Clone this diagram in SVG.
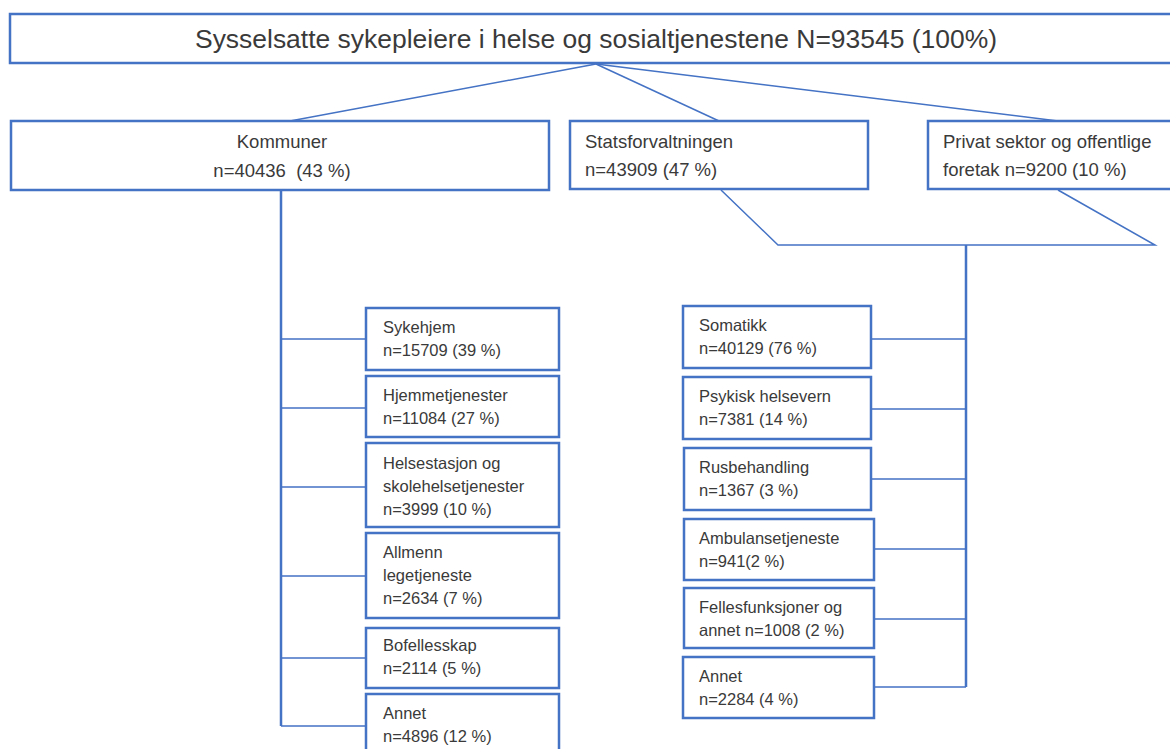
<svg xmlns="http://www.w3.org/2000/svg" width="1170" height="749" viewBox="0 0 1170 749">
<style>
.box{fill:#fff;stroke:#4472C4;stroke-width:2.5}
.ln{fill:none;stroke:#4472C4;stroke-width:1.5}
.sp{fill:none;stroke:#4472C4;stroke-width:2.5}
text{font-family:"Liberation Sans",Arial,sans-serif;fill:#3a3a3a}
.t1{font-size:25px}
.t2{font-size:18.5px}
.t3{font-size:16.5px}
</style>
<rect width="1170" height="749" fill="#fff"/>
<g id="connectors">
<path class="ln" d="M596 64 L290 121"/>
<path class="ln" d="M596 64 L719 121"/>
<path class="ln" d="M596 64 L1058 121"/>
<path class="ln" d="M721 190 L778 245 L1155 245 L1058 190"/>
<path class="sp" d="M966 245 V687"/>
<path class="sp" d="M281 190 V726"/>
<path class="ln" d="M281 339 H366 M281 408 H366 M281 487 H366 M281 576 H366 M281 658 H366 M281 726 H366"/>
<path class="ln" d="M871 339 H966 M871 409 H966 M871 479 H966 M874 549 H966 M874 619 H966 M874 687 H966"/>
</g>
<g id="root"><rect class="box" x="10" y="14" width="1170" height="49"/><text class="t1" x="195" y="48" textLength="802" lengthAdjust="spacingAndGlyphs">Sysselsatte sykepleiere i helse og sosialtjenestene N=93545 (100%)</text></g>
<g id="kommuner"><rect class="box" x="11" y="121" width="538" height="69"/><text class="t2" x="282" y="148" text-anchor="middle">Kommuner</text><text class="t2" x="282" y="177" text-anchor="middle" xml:space="preserve">n=40436  (43 %)</text></g>
<g id="stat"><rect class="box" x="570" y="121" width="298" height="68"/><text class="t2" x="585" y="148">Statsforvaltningen</text><text class="t2" x="585" y="176">n=43909 (47 %)</text></g>
<g id="privat"><rect class="box" x="928" y="121" width="260" height="68"/><text class="t2" x="943" y="148">Privat sektor og offentlige</text><text class="t2" x="943" y="176">foretak n=9200 (10 %)</text></g>
<g id="sykehjem"><rect class="box" x="366" y="308" width="193" height="62"/><text class="t3" x="383" y="333">Sykehjem</text><text class="t3" x="383" y="356">n=15709 (39 %)</text></g>
<g id="hjemme"><rect class="box" x="366" y="376" width="193" height="61"/><text class="t3" x="383" y="401">Hjemmetjenester</text><text class="t3" x="383" y="424">n=11084 (27 %)</text></g>
<g id="helsestasjon"><rect class="box" x="366" y="443" width="193" height="84"/><text class="t3" x="383" y="469">Helsestasjon og</text><text class="t3" x="383" y="492">skolehelsetjenester</text><text class="t3" x="383" y="515">n=3999 (10 %)</text></g>
<g id="allmenn"><rect class="box" x="366" y="533" width="193" height="85"/><text class="t3" x="383" y="558">Allmenn</text><text class="t3" x="383" y="581">legetjeneste</text><text class="t3" x="383" y="604">n=2634 (7 %)</text></g>
<g id="bofelles"><rect class="box" x="366" y="628" width="193" height="60"/><text class="t3" x="383" y="651">Bofellesskap</text><text class="t3" x="383" y="674">n=2114 (5 %)</text></g>
<g id="annet-k"><rect class="box" x="366" y="694" width="193" height="70"/><text class="t3" x="383" y="719">Annet</text><text class="t3" x="383" y="742">n=4896 (12 %)</text></g>
<g id="somatikk"><rect class="box" x="683" y="306" width="188" height="62"/><text class="t3" x="699" y="331">Somatikk</text><text class="t3" x="699" y="354">n=40129 (76 %)</text></g>
<g id="psykisk"><rect class="box" x="683" y="377" width="188" height="62"/><text class="t3" x="699" y="402">Psykisk helsevern</text><text class="t3" x="699" y="425">n=7381 (14 %)</text></g>
<g id="rus"><rect class="box" x="684" y="448" width="187" height="62"/><text class="t3" x="699" y="473">Rusbehandling</text><text class="t3" x="699" y="496">n=1367 (3 %)</text></g>
<g id="ambulanse"><rect class="box" x="684" y="519" width="190" height="61"/><text class="t3" x="699" y="544">Ambulansetjeneste</text><text class="t3" x="699" y="567">n=941(2 %)</text></g>
<g id="felles"><rect class="box" x="684" y="588" width="190" height="60"/><text class="t3" x="699" y="613">Fellesfunksjoner og</text><text class="t3" x="699" y="636">annet n=1008 (2 %)</text></g>
<g id="annet-s"><rect class="box" x="683" y="657" width="191" height="61"/><text class="t3" x="699" y="682">Annet</text><text class="t3" x="699" y="705">n=2284 (4 %)</text></g>
</svg>
